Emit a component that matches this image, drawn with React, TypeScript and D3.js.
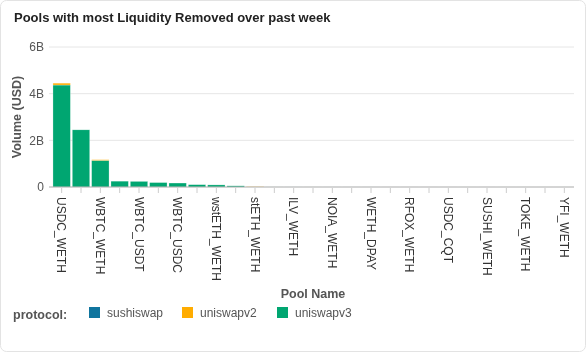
import * as d3 from 'd3'
import React from 'react'

const pools = [
  'USDC_WETH', 'WETH_USDT', 'WBTC_WETH', 'DAI_USDC', 'WBTC_USDT', 'DAI_WETH', 'WBTC_USDC',
  'LINK_WETH', 'wstETH_WETH', 'UNI_WETH', 'stETH_WETH', 'MATIC_WETH', 'ILV_WETH', 'APE_WETH',
  'NOIA_WETH', 'LDO_WETH', 'WETH_DPAY', 'SHIB_WETH', 'RFOX_WETH', 'FRAX_USDC', 'USDC_CQT',
  'CRV_WETH', 'SUSHI_WETH', 'MKR_WETH', 'TOKE_WETH', 'AAVE_WETH', 'YFI_WETH',
]
const sushiswap = [0, 0, 0, 0, 0, 0, 0, 0, 0, 0, 0, 0.0004, 0.0003, 0, 0.0003, 0, 0.0002, 0, 0.0002, 0, 0.0002, 0, 0.0002, 0, 0.0001, 0, 0.0001]
const uniswapv2 = [0.08, 0, 0.03, 0, 0, 0, 0, 0, 0, 0, 0.015, 0, 0, 0.0004, 0, 0, 0, 0.0003, 0, 0, 0, 0, 0, 0, 0, 0, 0]
const uniswapv3 = [4.37, 2.45, 1.14, 0.25, 0.24, 0.19, 0.17, 0.1, 0.09, 0.05, 0, 0.0009, 0.0008, 0.0007, 0.0007, 0.0006, 0.0006, 0.0005, 0.0005, 0.0005, 0.0004, 0.0004, 0.0004, 0.0003, 0.0003, 0.0003, 0.0003]
const protocols = ['sushiswap', 'uniswapv2', 'uniswapv3']
const colors = ['#10759e', '#ffac00', '#00a671']
const yTicks = [0, 2, 4, 6]

const W = 586, H = 352
const m = { left: 52, right: 12, top: 47, bottom: 165 }
const font = '"Liberation Sans", Arial, Helvetica, sans-serif'

export default function App() {
  const x = d3.scaleBand().domain(pools).range([m.left, W - m.right]).paddingInner(0.1).paddingOuter(0.05)
  const y = d3.scaleLinear().domain([0, 6]).range([H - m.bottom, m.top])
  const rows = pools.map((p, i) => ({ pool: p, sushiswap: sushiswap[i], uniswapv2: uniswapv2[i], uniswapv3: uniswapv3[i] }))
  const stack = d3.stack<any>().keys(['uniswapv3', 'uniswapv2', 'sushiswap'])(rows)
  const colorOf = (k: string) => colors[protocols.indexOf(k)]
  const y0 = y(0)

  return (
    <svg width={W} height={H} style={{ position: 'fixed', left: 0, top: 0, fontFamily: font }}>
      <rect x={0.5} y={0.5} width={W - 1} height={H - 1} rx={6} fill="#fff" stroke="#e3e3e3" />
      <text x={14} y={22} fontSize={13} fontWeight="bold" fill="#222">Pools with most Liquidity Removed over past week</text>

      {yTicks.map(t => (
        <g key={t}>
          {t > 0 && <line x1={m.left - 3} x2={W - m.right} y1={y(t)} y2={y(t)} stroke="#e6e6e6" />}
          <text x={44} y={y(t)} dy="0.35em" textAnchor="end" fontSize={12} fill="#555">{t === 0 ? '0' : `${t}B`}</text>
        </g>
      ))}
      <text transform={`translate(21 ${y(3)}) rotate(-90)`} textAnchor="middle" fontSize={12.5} fontWeight="bold" fill="#555">Volume (USD)</text>

      {stack.map(s => (
        <g key={s.key} fill={colorOf(s.key)}>
          {s.map((d, i) => {
            const h = y(d[0]) - y(d[1])
            if (h <= 0) return null
            return <rect key={i} x={x(pools[i])} y={y(d[1])} width={x.bandwidth()} height={h}
              stroke="#fff" strokeOpacity={0.5} strokeWidth={0.5} />
          })}
        </g>
      ))}

      <line x1={m.left - 3} x2={W - m.right} y1={y0} y2={y0} stroke="#aaa" />
      {pools.map((p, i) => {
        const cx = (x(p) as number) + x.bandwidth() / 2
        return (
          <g key={p}>
            <line x1={cx} x2={cx} y1={y0 + 1} y2={y0 + 6} stroke="#ccc" />
            {i % 2 === 0 && (
              <text transform={`translate(${cx} ${y0 + 10}) rotate(90)`} dy="0.35em" fontSize={12} fill="#333">{p}</text>
            )}
          </g>
        )
      })}
      <text x={313} y={298} textAnchor="middle" fontSize={12.5} fontWeight="bold" fill="#555">Pool Name</text>

      <text x={13} y={319} fontSize={12.5} fontWeight="bold" fill="#555">protocol:</text>
      {protocols.map((p, i) => {
        const lx = [89, 182, 277][i]
        return (
          <g key={p}>
            <rect x={lx} y={307} width={11} height={11} fill={colors[i]} />
            <text x={lx + 18} y={317} fontSize={12} fill="#555">{p}</text>
          </g>
        )
      })}
    </svg>
  )
}
